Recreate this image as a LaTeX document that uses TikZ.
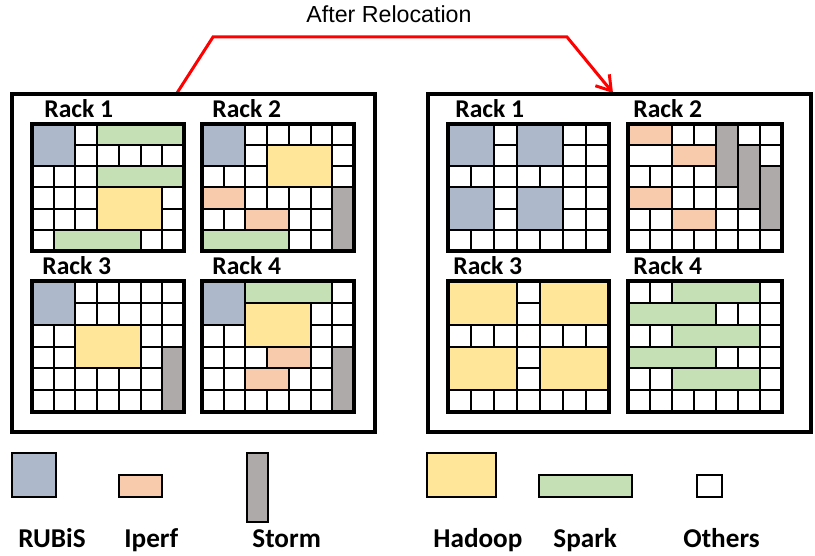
\documentclass[tikz,border=0pt]{standalone}
\usepackage{fontspec}
\setmainfont{Carlito}
\newfontfamily\titlefont{Liberation Sans}
\usetikzlibrary{arrows.meta}

\definecolor{rubiscol}{HTML}{ADB9CA}
\definecolor{iperfcol}{HTML}{F8CBAD}
\definecolor{stormcol}{HTML}{AEAAAA}
\definecolor{hadoopcol}{HTML}{FFE699}
\definecolor{sparkcol}{HTML}{C5E0B4}
\definecolor{relocred}{HTML}{FF0000}

\tikzset{
  cellline/.style={line width=1pt, draw=black},
  rackframe/.style={line width=2pt, draw=black},
  panelframe/.style={line width=1.75pt, draw=black},
  jobblock/.style={line width=1pt, draw=black},
  rubis/.style={jobblock, fill=rubiscol},
  iperf/.style={jobblock, fill=iperfcol},
  storm/.style={jobblock, fill=stormcol},
  hadoop/.style={jobblock, fill=hadoopcol},
  spark/.style={jobblock, fill=sparkcol},
  other/.style={jobblock, fill=white},
  legendbox/.style={line width=1.3pt, draw=black},
  racklabel/.style={anchor=base west, inner sep=0pt, font=\fontsize{12.8}{15}\selectfont\bfseries},
  legendlabel/.style={anchor=base west, inner sep=0pt, font=\fontsize{13.6}{16}\selectfont\bfseries},
  relocarrow/.style={draw=relocred, line width=1.5pt, line join=miter,
    -{Straight Barb[length=7pt, width=9pt, line width=1.5pt]}},
}

% a block of cells: column, row, width, height (in cells), style
\newcommand\blk[5]{\draw[#5] (#1,#2) rectangle ++(#3,#4);}

% a 7x6 rack of cells: left, top, width, height (in px), blocks
\newcommand\rackgrid[5]{%
  \pgfmathsetmacro\cellw{#3/14}%
  \pgfmathsetmacro\cellh{#4/12}%
  \begin{scope}[shift={(#1,#2)}, x=\cellw pt, y=-\cellh pt]
    \fill[white] (0,0) rectangle (7,6);
    \foreach \i in {1,...,6} \draw[cellline] (\i,0) -- (\i,6);
    \foreach \j in {1,...,5} \draw[cellline] (0,\j) -- (7,\j);
    #5
    \draw[rackframe] (0,0) rectangle (7,6);
  \end{scope}}

\begin{document}
\begin{tikzpicture}[x=0.5pt, y=-0.5pt]
  \useasboundingbox (0,0) rectangle (815,556);

  % title and relocation arrow
  \node[anchor=base, inner sep=0pt, font=\titlefont\fontsize{11.6}{14}\selectfont] (title) at (389,23) {After Relocation};
  \coordinate (fromPanel) at (177,93);
  \coordinate (bendA) at (213,37);
  \coordinate (bendB) at (567,37);
  \coordinate (toPanel) at (613,93);
  \draw[relocarrow] (fromPanel) -- (bendA) -- (bendB) -- (toPanel);

  % panels
  \draw[panelframe] (12,94) rectangle (375,432);
  \draw[panelframe] (428,94) rectangle (811,432);

  % before relocation
  \rackgrid{32}{124}{152}{127}{%
    \blk{0}{0}{2}{2}{rubis}
    \blk{3}{0}{4}{1}{spark}
    \blk{3}{2}{4}{1}{spark}
    \blk{3}{3}{3}{2}{hadoop}
    \blk{1}{5}{4}{1}{spark}}
  \rackgrid{202}{124}{152}{127}{%
    \blk{0}{0}{2}{2}{rubis}
    \blk{3}{1}{3}{2}{hadoop}
    \blk{0}{3}{2}{1}{iperf}
    \blk{2}{4}{2}{1}{iperf}
    \blk{0}{5}{4}{1}{spark}
    \blk{6}{3}{1}{3}{storm}}
  \rackgrid{32}{281}{152}{131}{%
    \blk{0}{0}{2}{2}{rubis}
    \blk{2}{2}{3}{2}{hadoop}
    \blk{6}{3}{1}{3}{storm}}
  \rackgrid{202}{281}{152}{131}{%
    \blk{0}{0}{2}{2}{rubis}
    \blk{2}{0}{4}{1}{spark}
    \blk{2}{1}{3}{2}{hadoop}
    \blk{3}{3}{2}{1}{iperf}
    \blk{2}{4}{2}{1}{iperf}
    \blk{6}{3}{1}{3}{storm}}

  % after relocation
  \rackgrid{448}{124}{161}{127}{%
    \blk{0}{0}{2}{2}{rubis}
    \blk{3}{0}{2}{2}{rubis}
    \blk{0}{3}{2}{2}{rubis}
    \blk{3}{3}{2}{2}{rubis}}
  \rackgrid{628}{124}{154}{127}{%
    \blk{0}{0}{2}{1}{iperf}
    \blk{0}{1}{2}{1}{other}
    \blk{2}{1}{2}{1}{iperf}
    \blk{0}{3}{2}{1}{iperf}
    \blk{2}{4}{2}{1}{iperf}
    \blk{4}{0}{1}{3}{storm}
    \blk{5}{1}{1}{3}{storm}
    \blk{6}{2}{1}{3}{storm}}
  \rackgrid{448}{281}{161}{131}{%
    \blk{0}{0}{3}{2}{hadoop}
    \blk{4}{0}{3}{2}{hadoop}
    \blk{0}{3}{3}{2}{hadoop}
    \blk{4}{3}{3}{2}{hadoop}}
  \rackgrid{628}{281}{154}{131}{%
    \blk{2}{0}{4}{1}{spark}
    \blk{0}{1}{4}{1}{spark}
    \blk{2}{2}{4}{1}{spark}
    \blk{0}{3}{4}{1}{spark}
    \blk{2}{4}{4}{1}{spark}}

  % rack labels
  \node[racklabel] (l1) at (44,118) {Rack 1};
  \node[racklabel] (l2) at (212,118) {Rack 2};
  \node[racklabel] (l3) at (42,275) {Rack 3};
  \node[racklabel] (l4) at (212,275) {Rack 4};
  \node[racklabel] (r1) at (455,118) {Rack 1};
  \node[racklabel] (r2) at (633,118) {Rack 2};
  \node[racklabel] (r3) at (453,274) {Rack 3};
  \node[racklabel] (r4) at (633,274) {Rack 4};

  % legend
  \draw[legendbox, fill=rubiscol] (12,453) rectangle (56,497);
  \draw[legendbox, fill=iperfcol] (119,475) rectangle (162,497);
  \draw[legendbox, fill=stormcol] (247,453) rectangle (268,522);
  \draw[legendbox, fill=hadoopcol] (427,453) rectangle (496,497);
  \draw[legendbox, fill=sparkcol] (539,475) rectangle (632,497);
  \draw[legendbox, fill=white] (697,475) rectangle (722,497);
  \node[legendlabel] (kRubis) at (18,547) {RUBiS};
  \node[legendlabel] (kIperf) at (124,547) {Iperf};
  \node[legendlabel] (kStorm) at (252,547) {Storm};
  \node[legendlabel] (kHadoop) at (433,547) {Hadoop};
  \node[legendlabel] (kSpark) at (553,547) {Spark};
  \node[legendlabel] (kOthers) at (683,547) {Others};
\end{tikzpicture}
\end{document}
